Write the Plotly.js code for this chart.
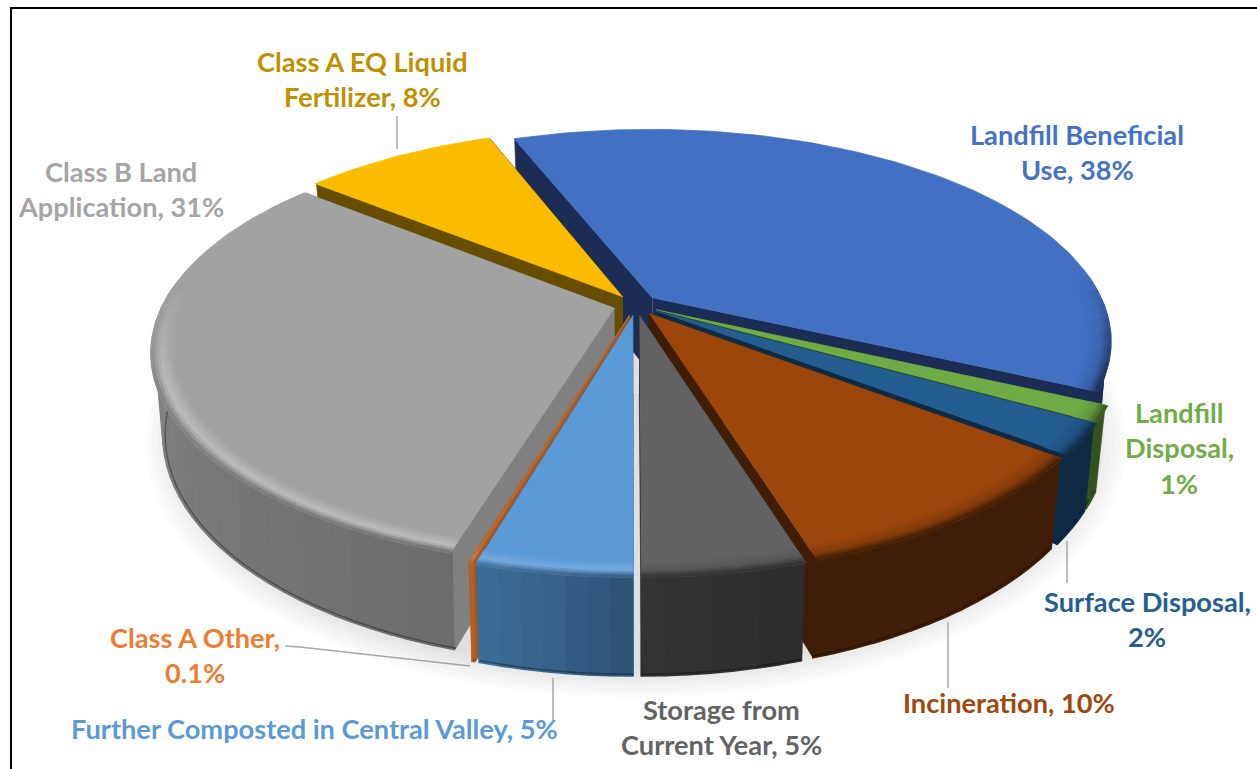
<!DOCTYPE html>
<html>
<head>
<meta charset="utf-8">
<script src="https://cdn.plot.ly/plotly-3.0.1.min.js"></script>
<style>html,body{margin:0;padding:0;background:#fff}#chart{width:1257px;height:769px}</style>
</head>
<body>
<div id="chart"></div>
<script>
// ---- data ----
const categories = ["Landfill Beneficial Use","Landfill Disposal","Surface Disposal","Incineration","Storage from Current Year","Further Composted in Central Valley","Class A Other","Class B Land Application","Class A EQ Liquid Fertilizer"];
const shares = [37.8, 1.2, 2.3, 9.8, 4.7, 4.5, 0.1, 31.3, 8.3];

// ---- styles ----
const topColors  = ["#4270C2","#6FAC46","#245D90","#9C460C","#636363","#5A9AD6","#C4682A","#A2A2A2","#FBBC00"];
const wallStart  = ["#1B2D55","#32521F","#0F2A45","#3F1D06","#333333","#3E6F98","#B86020","#939393","#664D00"];
const wallEnd    = ["#1B2D55","#32521F","#0F2A45","#3F1D06","#2D2D2D","#2F5276","#B86020","#6C6C6C","#664D00"];
const cutColors  = ["#1B2D55","#32521F","#0F2A45","#3F1D06","#2D2D2D","#2F5276","#A85A22","#808080","#664D00"];
const highlights = [0, 0, 0, 0, 0, 0.16, 0.15, 0.28, 0];
const paintOrder = [0, 8, 7, 1, 2, 3, 6, 5, 4];
const labelLines = [["Landfill Beneficial","Use, 38%"],["Landfill","Disposal,","1%"],["Surface Disposal,","2%"],["Incineration, 10%"],["Storage from","Current Year, 5%"],["Further Composted in Central Valley, 5%"],["Class A Other,","0.1%"],["Class B Land","Application, 31%"],["Class A EQ Liquid","Fertilizer, 8%"]];
const labelColors = ["#4472C4","#70AD47","#255E91","#9E480E","#636363","#5B9BD5","#ED7D31","#A5A5A5","#BF9000"];
const labelX = [1077,1179,1147,1009,721,314,195,121,362];
const labelY = [134,412,601,702,709,728,637,171,61];
const lineSpacing = 35.7;
const leaderX = [[397,397],[1067,1067],[948,948],[553,553],[285,300,470]];
const leaderY = [[116,149],[541,583],[622,688],[678,720],[646,647,666]];

// ---- projection of the tilted disc onto the page ----
const cx=636, cy=305, Rx=452, Ry=205, persp=0.2, thick=78, shrink=0.975, explode=0.05;
const rad = d => d*Math.PI/180;
function project(X,Y,z){
  const w=1+persp*Y;
  let sx=cx+Rx*X/w, sy=cy-Ry*Y/w;
  if(z>0){ sx=cx+(sx-cx)*(1-(1-shrink)*z); sy+=thick*z/w; }
  return [sx,sy];
}
function hex(c){return [1,3,5].map(i=>parseInt(c.substr(i,2),16));}
function mix(a,b,t){const A=hex(a),B=hex(b);return '#'+A.map((v,i)=>Math.round(v+(B[i]-v)*t).toString(16).padStart(2,'0')).join('');}

const total = shares.reduce((a,b)=>a+b,0);
const startAngle = -21;
const slices=[]; let acc=startAngle;
shares.forEach((v,i)=>{const span=v/total*360;slices[i]={a0:acc,a1:acc+span,mid:acc+span/2,i};acc+=span;});

function pt(s,ang,r,z){
  const ox=explode*Math.sin(rad(s.mid)), oy=explode*Math.cos(rad(s.mid));
  return project(ox+r*Math.sin(rad(ang)), oy+r*Math.cos(rad(ang)), z);
}
const traces=[];
function poly(pts,color,opacity,lw){
  traces.push({type:'scatter',mode:'lines',x:pts.map(p=>p[0]),y:pts.map(p=>p[1]),fill:'toself',fillcolor:color,
    line:{color:color,width:opacity?0:(lw===undefined?0.7:lw)},opacity:opacity||1,hoverinfo:'skip',showlegend:false});
}
function arc(s,r,z,a0,a1,n){const o=[];for(let k=0;k<=n;k++)o.push(pt(s,a0+(a1-a0)*k/n,r,z));return o;}

// soft shadow under the pie
for(let k=8;k>=1;k--){
  const o=[];for(let a=0;a<=360;a+=4){o.push(project((1.0+0.011*k)*Math.sin(rad(a)),(1.0+0.011*k)*Math.cos(rad(a)),1.08));}
  poly(o,'#000000',0.014);
}

paintOrder.forEach(idx=>{
  const s=slices[idx], span=s.a1-s.a0;
  const top=topColors[idx];
  // radial cut faces
  [s.a0,s.a1].forEach(a=>{
    poly([pt(s,a,0,0),pt(s,a,0.995,0),pt(s,a,1,1),pt(s,a,0,1)],cutColors[idx]);
  });
  // outer wall, in strips shaded along the arc
  const n=Math.max(1,Math.ceil(span/2.5));
  for(let k=0;k<n;k++){
    const a=s.a0+span*k/n,b=s.a0+span*(k+1)/n;
    if(Math.cos(rad((a+b)/2))>0.75) continue;
    const c=mix(wallStart[idx],wallEnd[idx],1-(k+0.5)/n);
    poly([pt(s,a,0.99,0),pt(s,b,0.99,0),pt(s,b,1,1),pt(s,a,1,1)],c,0,1.6);
    // dark lip at the bottom of the wall
    const lp=[pt(s,a,0.995,1),pt(s,b,0.995,1)];
    traces.push({type:'scatter',mode:'lines',x:lp.map(p=>p[0]),y:lp.map(p=>p[1]),line:{color:mix(c,'#000000',0.35),width:1.4},hoverinfo:'skip',showlegend:false});
  }
  // top face
  poly([pt(s,s.a0,0,0)].concat(arc(s,1,0,s.a0,s.a1,Math.max(2,Math.ceil(span/1.5)))),top);
  // rounded rim
  const rings=8, inner=0.95, m=Math.max(1,Math.ceil(span/4));
  for(let k=0;k<m;k++){
    const a=s.a0+span*k/m,b=s.a0+span*(k+1)/m,am=(a+b)/2;
    const f=Math.max(0,Math.min(1,(0.12-Math.cos(rad(am)))/0.5));
    if(f<=0) continue;
    const wall=mix(wallStart[idx],wallEnd[idx],1-(k+0.5)/m);
    const hl=highlights[idx]>0?mix(top,'#FFFFFF',highlights[idx]):mix(top,wall,0.25);
    for(let q=0;q<rings;q++){
      const u=(q+0.5)/rings;
      const c0=u<0.6?mix(top,hl,u/0.6):mix(hl,wall,(u-0.6)/0.4);
      const c=mix(top,c0,f);
      const r0=inner+(1-inner)*q/rings,r1=inner+(1-inner)*(q+1)/rings;
      poly([pt(s,a,r0,0),pt(s,b,r0,0),pt(s,b,r1,0),pt(s,a,r1,0)],c,0,1.0);
    }
  }
});

// leader lines
leaderX.forEach((xs,i)=>traces.push({type:'scatter',mode:'lines',x:xs,y:leaderY[i],line:{color:'#A6A6A6',width:1.5},hoverinfo:'skip',showlegend:false}));

// labels
const annotations=[];
labelLines.forEach((lines,i)=>lines.forEach((t,j)=>annotations.push({
  x:labelX[i],y:labelY[i]+j*lineSpacing,xref:'x',yref:'y',text:'<b>'+t+'</b>',showarrow:false,
  xanchor:'center',yanchor:'middle',font:{family:'Lato, sans-serif',size:27.2,color:labelColors[i]}
})));

const layout={width:1257,height:769,margin:{l:0,r:0,t:0,b:0},paper_bgcolor:'#fff',plot_bgcolor:'#fff',showlegend:false,hovermode:false,
  xaxis:{range:[0,1257],visible:false,fixedrange:true},
  yaxis:{range:[769,0],visible:false,fixedrange:true},
  annotations,
  shapes:[
    {type:'line',xref:'x',yref:'y',x0:11,x1:11,y0:8,y1:769,line:{color:'#000',width:2}},
    {type:'line',xref:'x',yref:'y',x0:10,x1:1257,y0:8,y1:8,line:{color:'#000',width:2}}
  ]};
Plotly.newPlot('chart',traces,layout,{staticPlot:true,displayModeBar:false});
</script>
</body>
</html>
